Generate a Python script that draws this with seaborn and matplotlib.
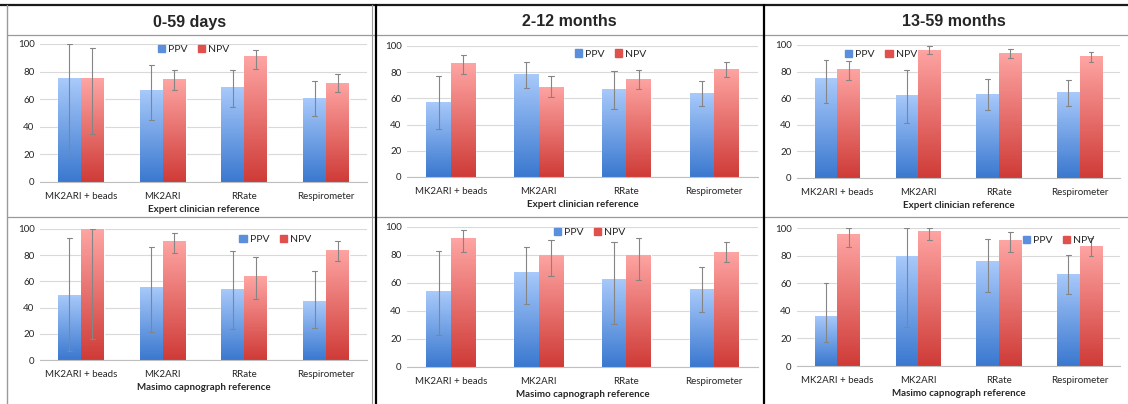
"""PPV / NPV of each test by age group, against two references"""
import matplotlib
matplotlib.use("Agg")
import matplotlib.pyplot as plt
import numpy as np
import pandas as pd
import seaborn as sns
from matplotlib.colors import LinearSegmentedColormap
from matplotlib.lines import Line2D
from matplotlib.ticker import FixedLocator

ages = ["0-59 days", "2-12 months", "13-59 months"]
references = ["Expert clinician reference", "Masimo capnograph reference"]
tests = ["MK2ARI + beads", "MK2ARI", "RRate", "Respirometer"]
measures = ["PPV", "NPV"]

# expert clinician reference, one list per age group
ec_ppv = [[75, 67, 69, 61], [57.5, 79, 67.5, 64], [75, 62.5, 63.5, 64.5]]
ec_ppv_lo = [[19.5, 45, 54, 48], [37, 68, 52, 54], [56.5, 41, 51.5, 54.5]]
ec_ppv_hi = [[100, 85, 81, 73], [77, 87.5, 81, 73.5], [89, 81.5, 74.5, 73.5]]
ec_npv = [[75, 74.5, 91, 72], [87, 69, 75, 82.5], [82, 96.5, 94, 91.5]]
ec_npv_lo = [[35, 67, 82, 65], [79, 61, 67, 76], [74, 93, 90, 87.5]]
ec_npv_hi = [[97, 81, 96, 78], [93, 77, 82, 87.5], [88, 99, 97, 95]]

# masimo capnograph reference
mc_ppv = [[50, 56, 54.5, 45], [54, 68, 63, 55.5], [36.5, 80, 76, 67]]
mc_ppv_lo = [[7, 21.5, 23.5, 24.5], [23, 45, 31, 39.5], [17.5, 28.5, 53.5, 52]]
mc_ppv_hi = [[93, 86.5, 83.5, 68], [83, 86, 89, 71.5], [60, 100, 92, 80.5]]
mc_npv = [[100, 91, 64, 84], [92, 80, 80, 82.5], [95.5, 98, 91, 87]]
mc_npv_lo = [[16, 81.5, 46.5, 75.5], [82, 65, 62, 75], [86, 91, 82.5, 79.5]]
mc_npv_hi = [[100, 97, 79, 91], [98, 91, 92.5, 89], [100, 100, 97, 93]]

W, H = 1128, 404
# axes boxes in pixels: left, right, top(100), bottom(0)
boxes = [
    [(40, 367, 44, 182), (407, 758, 46, 177), (797, 1120, 45, 178)],
    [(40, 367, 229, 360), (407, 758, 227, 367), (797, 1120, 228, 366)],
]
legend_pos = [[(0.47, 0.96), (0.58, 0.94), (0.26, 0.93)],
              [(0.72, 0.92), (0.52, 0.96), (0.81, 0.91)]]

blue_grad = LinearSegmentedColormap.from_list("b", ["#3a78cf", "#a9cafb"])
red_grad = LinearSegmentedColormap.from_list("r", ["#cf3b37", "#fea5a3"])

sns.set_style("white")
plt.rcParams["font.family"] = ["Lato", "DejaVu Sans"]

fig = plt.figure(figsize=(W / 100, H / 100), dpi=100)


def panel_frame(ref, i):
    if ref == 0:
        src = [(ec_ppv, ec_ppv_lo, ec_ppv_hi), (ec_npv, ec_npv_lo, ec_npv_hi)]
    else:
        src = [(mc_ppv, mc_ppv_lo, mc_ppv_hi), (mc_npv, mc_npv_lo, mc_npv_hi)]
    rows = []
    for m, (val, lo, hi) in zip(measures, src):
        for t, v, l, h in zip(tests, val[i], lo[i], hi[i]):
            # median gives the bar, the 0-100 percentile interval gives the whisker
            for x in (l, v, h):
                rows.append({"Test": t, "Measure": m, "Value": x})
    return pd.DataFrame(rows)


for r in range(2):
    for i in range(3):
        l, rt, tp, bt = boxes[r][i]
        ax = fig.add_axes([l / W, 1 - bt / H, (rt - l) / W, (bt - tp) / H])
        df = panel_frame(r, i)
        sns.barplot(data=df, x="Test", y="Value", hue="Measure", order=tests,
                    hue_order=measures, palette=["#6fa0e6", "#e86f6c"],
                    estimator="median", errorbar=("pi", 100), width=0.56,
                    capsize=0.12, err_kws={"color": "#858585", "linewidth": 0.8},
                    ax=ax)
        for ln in ax.lines:
            ln.set_zorder(3)
        ax.set_ylim(0, 100)
        ax.set_xlim(-0.5, 3.5)
        ax.set_yticks(range(0, 101, 20))
        ax.yaxis.grid(True, color="#d9d9d9", linewidth=0.8)
        ax.set_axisbelow(True)
        for s in ["top", "right", "left"]:
            ax.spines[s].set_visible(False)
        ax.spines["bottom"].set_color("#bfbfbf")
        ax.tick_params(axis="y", which="major", length=0, labelsize=7,
                       labelcolor="#262626", pad=4)
        ax.tick_params(axis="x", which="major", length=0, labelsize=7,
                       labelcolor="#262626", pad=7)
        ax.xaxis.set_minor_locator(FixedLocator([-0.5, 0.5, 1.5, 2.5, 3.5]))
        ax.tick_params(axis="x", which="minor", length=4, color="#bfbfbf")
        ax.set_ylabel("")
        ax.set_xlabel(references[r], fontsize=7, fontweight="bold", labelpad=3)

        # vertical gradient fill on each bar, dark at the base
        grad = np.linspace(0, 1, 256).reshape(-1, 1)
        for k, p in enumerate(ax.patches):
            if p.get_height() <= 0:
                continue
            x0 = p.get_x()
            cmap = blue_grad if k < len(tests) else red_grad
            im = ax.imshow(grad, cmap=cmap, origin="lower", aspect="auto",
                           extent=[x0, x0 + p.get_width(), 0, p.get_height()],
                           zorder=1.5)
            im.set_clip_path(p)
        ax.set_xlim(-0.5, 3.5)
        ax.set_ylim(0, 100)

        handles = [plt.Rectangle((0, 0), 1, 1, color="#5b8fdc"),
                   plt.Rectangle((0, 0), 1, 1, color="#e0504c")]
        ax.legend(handles, measures, loc="center", ncol=2,
                  bbox_to_anchor=legend_pos[r][i], frameon=False, fontsize=7.5,
                  handlelength=0.7, handleheight=0.7, handletextpad=0.3,
                  columnspacing=1.0, borderpad=0)

# table lines around the panels
def hline(y, x0, x1, color, lw):
    fig.add_artist(Line2D([x0 / W, x1 / W], [1 - y / H, 1 - y / H],
                          transform=fig.transFigure, color=color, lw=lw))


def vline(x, y0, y1, color, lw):
    fig.add_artist(Line2D([x / W, x / W], [1 - y0 / H, 1 - y1 / H],
                          transform=fig.transFigure, color=color, lw=lw))


hline(5, 0, W, "#1a1a1a", 1.6)
hline(35, 7, W, "#9a9a9a", 0.9)
hline(217, 7, W, "#9a9a9a", 0.9)
vline(7, 5, H, "#9a9a9a", 1.0)
vline(372, 5, H, "#9a9a9a", 0.8)
vline(376, 5, H, "#000000", 1.6)
vline(764, 5, H, "#000000", 1.6)

for x, title in zip([190, 569, 954], ages):
    fig.text(x / W, 1 - 22 / H, title, ha="center", va="center", fontsize=11.5,
             fontweight="bold", family=["Liberation Sans", "DejaVu Sans"])

fig.savefig("out.png", dpi=100)
